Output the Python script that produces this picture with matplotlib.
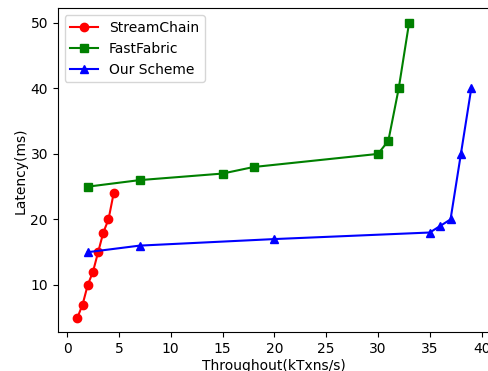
import matplotlib
matplotlib.use('Agg')
import matplotlib.pyplot as plt

sc_x = [1, 1.5, 2, 2.5, 3, 3.5, 4, 4.5]
sc_y = [5, 7, 10, 12, 15, 18, 20, 24]

ff_x = [2, 7, 15, 18, 30, 31, 32, 33]
ff_y = [25, 26, 27, 28, 30, 32, 40, 50]

os_x = [2, 7, 20, 35, 36, 37, 38, 39]
os_y = [15, 16, 17, 18, 19, 20, 30, 40]

fig = plt.figure(figsize=(4.89, 3.71), dpi=100)
ax = fig.add_axes([0.118, 0.104, 0.886, 0.874])

ax.plot(sc_x, sc_y, 'r-o', label='StreamChain')
ax.plot(ff_x, ff_y, 'g-s', label='FastFabric')
ax.plot(os_x, os_y, 'b-^', label='Our Scheme')

ax.set_xlabel('Throughout(kTxns/s)', labelpad=2)
ax.set_ylabel('Latency(ms)', labelpad=2)
ax.legend(loc='upper left')

fig.savefig('out.png', dpi=100)
